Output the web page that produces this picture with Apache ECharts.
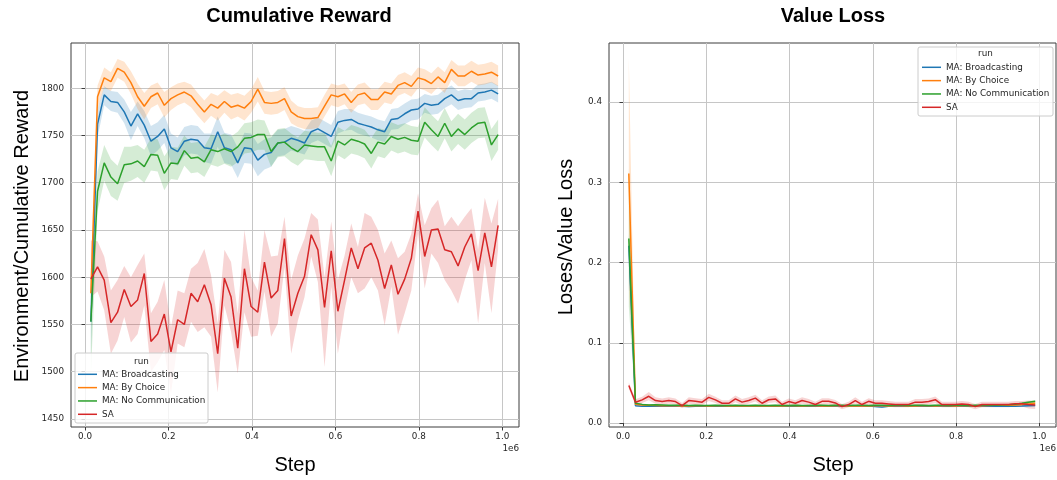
<!DOCTYPE html>
<html><head><meta charset="utf-8">
<script src="https://cdn.jsdelivr.net/npm/echarts@6/dist/echarts.min.js"></script>
<style>html,body{margin:0;padding:0;background:#fff}#c{width:1057px;height:480px}</style>
</head><body><div id="c"></div>
<script>
const steps = [14000, 30000, 46000, 62000, 78000, 94000, 110000, 126000, 142000, 158000,
174000, 190000, 206000, 222000, 238000, 254000, 270000, 286000, 302000, 318000,
334000, 350000, 366000, 382000, 398000, 414000, 430000, 446000, 462000, 478000,
494000, 510000, 526000, 542000, 558000, 574000, 590000, 606000, 622000, 638000,
654000, 670000, 686000, 702000, 718000, 734000, 750000, 766000, 782000, 798000,
814000, 830000, 846000, 862000, 878000, 894000, 910000, 926000, 942000, 958000,
974000, 990000];

const runNames = ['MA: Broadcasting', 'MA: By Choice', 'MA: No Communication', 'SA'];
const runColors = ['#1f77b4', '#ff7f0e', '#2ca02c', '#d62728'];
const xTicks = [0, 200000, 400000, 600000, 800000, 1000000];
const rewardTicks = [1450, 1500, 1550, 1600, 1650, 1700, 1750, 1800];
const lossTicks = [0, 0.1, 0.2, 0.3, 0.4];

// Cumulative reward
const rewardBroadcast = [1553, 1762, 1793, 1786, 1785, 1775, 1760, 1773, 1761, 1744,
1749, 1757, 1737, 1733, 1744, 1746, 1745, 1737, 1736, 1754,
1737, 1735, 1721, 1737, 1736, 1724, 1730, 1732, 1742, 1743,
1747, 1745, 1742, 1754, 1757, 1753, 1749, 1764, 1766, 1767,
1763, 1761, 1759, 1756, 1754, 1767, 1768, 1773, 1777, 1778,
1784, 1782, 1783, 1789, 1793, 1787, 1789, 1789, 1795, 1796,
1798, 1794];
const rewardBroadcastLow = [1515, 1748, 1782, 1776, 1774, 1763, 1745, 1760, 1747, 1728,
1734, 1742, 1722, 1718, 1729, 1731, 1730, 1722, 1720, 1738,
1721, 1719, 1705, 1721, 1720, 1707, 1714, 1717, 1728, 1729,
1734, 1732, 1730, 1742, 1745, 1741, 1737, 1752, 1755, 1756,
1752, 1750, 1748, 1745, 1743, 1756, 1757, 1762, 1766, 1767,
1774, 1772, 1773, 1779, 1783, 1777, 1779, 1780, 1786, 1787,
1789, 1785];
const rewardBroadcastHigh = [1585, 1778, 1802, 1797, 1796, 1788, 1775, 1786, 1776, 1760,
1764, 1772, 1752, 1748, 1759, 1761, 1760, 1752, 1752, 1770,
1753, 1751, 1737, 1753, 1752, 1741, 1746, 1748, 1756, 1757,
1760, 1758, 1755, 1766, 1769, 1765, 1761, 1776, 1778, 1778,
1774, 1772, 1770, 1767, 1765, 1778, 1779, 1784, 1788, 1789,
1794, 1792, 1793, 1799, 1803, 1797, 1799, 1798, 1804, 1805,
1807, 1803];

const rewardChoice = [1583, 1791, 1811, 1807, 1821, 1817, 1806, 1791, 1781, 1791,
1795, 1782, 1789, 1793, 1796, 1792, 1783, 1775, 1783, 1779,
1786, 1780, 1782, 1779, 1786, 1799, 1785, 1784, 1785, 1789,
1775, 1770, 1768, 1768, 1769, 1781, 1793, 1791, 1794, 1785,
1793, 1795, 1788, 1788, 1796, 1794, 1803, 1806, 1802, 1811,
1809, 1805, 1812, 1806, 1820, 1813, 1813, 1818, 1814, 1815,
1817, 1813];
const rewardChoiceLow = [1560, 1778, 1801, 1797, 1811, 1807, 1794, 1778, 1767, 1779,
1783, 1769, 1777, 1782, 1785, 1780, 1771, 1763, 1771, 1766,
1774, 1767, 1770, 1766, 1774, 1786, 1773, 1772, 1773, 1777,
1763, 1759, 1757, 1757, 1758, 1770, 1782, 1780, 1783, 1774,
1782, 1784, 1777, 1777, 1785, 1783, 1792, 1795, 1791, 1800,
1798, 1794, 1801, 1795, 1809, 1802, 1802, 1807, 1803, 1804,
1806, 1802];
const rewardChoiceHigh = [1606, 1803, 1822, 1817, 1831, 1828, 1818, 1805, 1795, 1803,
1806, 1796, 1801, 1805, 1807, 1804, 1795, 1787, 1795, 1792,
1798, 1793, 1795, 1792, 1799, 1812, 1797, 1796, 1797, 1801,
1787, 1781, 1779, 1779, 1780, 1793, 1805, 1803, 1805, 1796,
1804, 1806, 1799, 1799, 1807, 1805, 1814, 1817, 1813, 1822,
1820, 1816, 1823, 1817, 1830, 1824, 1824, 1829, 1825, 1826,
1828, 1824];

const rewardNoComm = [1553, 1691, 1721, 1706, 1699, 1719, 1720, 1723, 1717, 1730,
1729, 1710, 1721, 1720, 1734, 1726, 1727, 1722, 1735, 1733,
1736, 1733, 1738, 1747, 1748, 1751, 1751, 1733, 1742, 1743,
1737, 1733, 1740, 1739, 1738, 1738, 1723, 1744, 1740, 1746,
1744, 1741, 1731, 1743, 1741, 1749, 1746, 1748, 1745, 1744,
1764, 1756, 1749, 1763, 1749, 1757, 1751, 1758, 1763, 1764,
1740, 1751];
const rewardNoCommLow = [1495, 1670, 1702, 1686, 1681, 1700, 1702, 1706, 1700, 1713,
1712, 1692, 1704, 1703, 1718, 1710, 1711, 1706, 1719, 1717,
1720, 1717, 1722, 1731, 1732, 1735, 1735, 1717, 1727, 1728,
1722, 1718, 1725, 1724, 1723, 1723, 1707, 1729, 1725, 1731,
1729, 1726, 1715, 1728, 1726, 1734, 1731, 1733, 1730, 1729,
1748, 1740, 1733, 1747, 1733, 1741, 1735, 1742, 1747, 1748,
1723, 1735];
const rewardNoCommHigh = [1600, 1712, 1740, 1725, 1718, 1738, 1738, 1740, 1735, 1747,
1746, 1728, 1738, 1737, 1750, 1742, 1743, 1738, 1751, 1749,
1752, 1749, 1754, 1763, 1764, 1767, 1766, 1749, 1757, 1758,
1752, 1748, 1755, 1754, 1753, 1753, 1739, 1759, 1755, 1761,
1759, 1756, 1747, 1758, 1756, 1764, 1761, 1763, 1760, 1759,
1780, 1772, 1765, 1779, 1765, 1773, 1767, 1774, 1779, 1780,
1757, 1767];

const rewardSA = [1598, 1611, 1597, 1552, 1563, 1587, 1569, 1576, 1604, 1532,
1540, 1561, 1521, 1555, 1550, 1583, 1574, 1592, 1571, 1519,
1599, 1579, 1525, 1609, 1569, 1563, 1616, 1578, 1586, 1641,
1559, 1583, 1601, 1645, 1629, 1568, 1628, 1564, 1597, 1631,
1609, 1631, 1636, 1618, 1588, 1613, 1582, 1598, 1620, 1670,
1622, 1650, 1651, 1629, 1627, 1612, 1632, 1646, 1607, 1647,
1611, 1655];
const rewardSALow = [1579, 1585, 1565, 1519, 1533, 1558, 1531, 1540, 1570, 1500,
1510, 1523, 1477, 1530, 1526, 1553, 1542, 1547, 1537, 1478,
1570, 1542, 1498, 1563, 1537, 1538, 1585, 1537, 1551, 1611,
1519, 1554, 1579, 1622, 1595, 1505, 1590, 1519, 1565, 1600,
1583, 1588, 1600, 1586, 1549, 1590, 1539, 1562, 1586, 1646,
1588, 1625, 1615, 1597, 1586, 1572, 1597, 1618, 1551, 1615,
1562, 1630];
const rewardSAHigh = [1639, 1638, 1622, 1586, 1597, 1612, 1600, 1613, 1625, 1562,
1574, 1597, 1547, 1586, 1583, 1609, 1615, 1630, 1602, 1551,
1629, 1616, 1562, 1650, 1600, 1586, 1650, 1622, 1623, 1664,
1597, 1623, 1641, 1668, 1661, 1600, 1659, 1597, 1623, 1657,
1632, 1668, 1664, 1650, 1625, 1639, 1620, 1627, 1646, 1689,
1655, 1673, 1682, 1654, 1664, 1654, 1664, 1673, 1629, 1684,
1657, 1683];

// Value loss
const lossBroadcast = [0.221, 0.0215, 0.0210, 0.0210, 0.0210, 0.0208, 0.0208, 0.0210, 0.0208, 0.0206,
0.0208, 0.0210, 0.0210, 0.0208, 0.0210, 0.0208, 0.0210, 0.0210, 0.0208, 0.0210,
0.0210, 0.0212, 0.0210, 0.0208, 0.0210, 0.0212, 0.0210, 0.0210, 0.0210, 0.0210,
0.0212, 0.0210, 0.0210, 0.0214, 0.0210, 0.0210, 0.0212, 0.0205, 0.0198, 0.0210,
0.0210, 0.0212, 0.0210, 0.0210, 0.0212, 0.0210, 0.0210, 0.0212, 0.0210, 0.0210,
0.0208, 0.0210, 0.0210, 0.0212, 0.0210, 0.0210, 0.0212, 0.0210, 0.0210, 0.0212,
0.0215, 0.0218];
const lossBroadcastLow = [0.204, 0.0205, 0.0201, 0.0201, 0.0201, 0.0199, 0.0199, 0.0201, 0.0199, 0.0197,
0.0199, 0.0201, 0.0201, 0.0199, 0.0201, 0.0199, 0.0201, 0.0201, 0.0199, 0.0201,
0.0201, 0.0203, 0.0201, 0.0199, 0.0201, 0.0203, 0.0201, 0.0201, 0.0201, 0.0201,
0.0203, 0.0201, 0.0201, 0.0205, 0.0201, 0.0201, 0.0203, 0.0195, 0.0188, 0.0201,
0.0201, 0.0203, 0.0201, 0.0201, 0.0203, 0.0201, 0.0201, 0.0203, 0.0201, 0.0201,
0.0199, 0.0201, 0.0201, 0.0203, 0.0201, 0.0201, 0.0203, 0.0201, 0.0201, 0.0203,
0.0205, 0.0207];
const lossBroadcastHigh = [0.238, 0.0225, 0.0219, 0.0219, 0.0219, 0.0217, 0.0217, 0.0219, 0.0217, 0.0215,
0.0217, 0.0219, 0.0219, 0.0217, 0.0219, 0.0217, 0.0219, 0.0219, 0.0217, 0.0219,
0.0219, 0.0221, 0.0219, 0.0217, 0.0219, 0.0221, 0.0219, 0.0219, 0.0219, 0.0219,
0.0221, 0.0219, 0.0219, 0.0223, 0.0219, 0.0219, 0.0221, 0.0215, 0.0208, 0.0219,
0.0219, 0.0221, 0.0219, 0.0219, 0.0221, 0.0219, 0.0219, 0.0221, 0.0219, 0.0219,
0.0217, 0.0219, 0.0219, 0.0221, 0.0219, 0.0219, 0.0221, 0.0219, 0.0219, 0.0221,
0.0225, 0.0229];

const lossChoice = [0.311, 0.0235, 0.0225, 0.0220, 0.0218, 0.0215, 0.0215, 0.0215, 0.0213, 0.0213,
0.0215, 0.0215, 0.0213, 0.0215, 0.0215, 0.0213, 0.0213, 0.0213, 0.0215, 0.0213,
0.0213, 0.0215, 0.0213, 0.0213, 0.0215, 0.0215, 0.0213, 0.0215, 0.0215, 0.0213,
0.0213, 0.0215, 0.0215, 0.0213, 0.0215, 0.0213, 0.0213, 0.0215, 0.0215, 0.0213,
0.0215, 0.0215, 0.0213, 0.0213, 0.0215, 0.0215, 0.0213, 0.0215, 0.0215, 0.0213,
0.0215, 0.0215, 0.0213, 0.0215, 0.0217, 0.0220, 0.0222, 0.0222, 0.0225, 0.0230,
0.0238, 0.0245];
const lossChoiceLow = [0.168, 0.0222, 0.0214, 0.0210, 0.0208, 0.0205, 0.0205, 0.0205, 0.0203, 0.0203,
0.0205, 0.0205, 0.0203, 0.0205, 0.0205, 0.0203, 0.0203, 0.0203, 0.0205, 0.0203,
0.0203, 0.0205, 0.0203, 0.0203, 0.0205, 0.0205, 0.0203, 0.0205, 0.0205, 0.0203,
0.0203, 0.0205, 0.0205, 0.0203, 0.0205, 0.0203, 0.0203, 0.0205, 0.0205, 0.0203,
0.0205, 0.0205, 0.0203, 0.0203, 0.0205, 0.0205, 0.0203, 0.0205, 0.0205, 0.0203,
0.0205, 0.0205, 0.0203, 0.0205, 0.0206, 0.0209, 0.0210, 0.0210, 0.0212, 0.0216,
0.0222, 0.0228];
const lossChoiceHigh = [0.455, 0.0249, 0.0236, 0.0230, 0.0228, 0.0225, 0.0225, 0.0225, 0.0223, 0.0223,
0.0225, 0.0225, 0.0223, 0.0225, 0.0225, 0.0223, 0.0223, 0.0223, 0.0225, 0.0223,
0.0223, 0.0225, 0.0223, 0.0223, 0.0225, 0.0225, 0.0223, 0.0225, 0.0225, 0.0223,
0.0223, 0.0225, 0.0225, 0.0223, 0.0225, 0.0223, 0.0223, 0.0225, 0.0225, 0.0223,
0.0225, 0.0225, 0.0223, 0.0223, 0.0225, 0.0225, 0.0223, 0.0225, 0.0225, 0.0223,
0.0225, 0.0225, 0.0223, 0.0225, 0.0228, 0.0231, 0.0234, 0.0234, 0.0238, 0.0244,
0.0254, 0.0262];

const lossNoComm = [0.230, 0.0245, 0.0232, 0.0225, 0.0228, 0.0225, 0.0222, 0.0220, 0.0220, 0.0218,
0.0220, 0.0218, 0.0218, 0.0220, 0.0218, 0.0218, 0.0220, 0.0218, 0.0218, 0.0220,
0.0218, 0.0218, 0.0220, 0.0218, 0.0218, 0.0220, 0.0218, 0.0218, 0.0220, 0.0220,
0.0218, 0.0220, 0.0220, 0.0218, 0.0220, 0.0220, 0.0218, 0.0220, 0.0220, 0.0218,
0.0220, 0.0220, 0.0218, 0.0220, 0.0220, 0.0218, 0.0220, 0.0220, 0.0218, 0.0220,
0.0220, 0.0218, 0.0220, 0.0220, 0.0222, 0.0222, 0.0225, 0.0228, 0.0235, 0.0245,
0.0260, 0.0270];
const lossNoCommLow = [0.145, 0.0233, 0.0222, 0.0215, 0.0218, 0.0215, 0.0212, 0.0210, 0.0210, 0.0208,
0.0210, 0.0208, 0.0208, 0.0210, 0.0208, 0.0208, 0.0210, 0.0208, 0.0208, 0.0210,
0.0208, 0.0208, 0.0210, 0.0208, 0.0208, 0.0210, 0.0208, 0.0208, 0.0210, 0.0210,
0.0208, 0.0210, 0.0210, 0.0208, 0.0210, 0.0210, 0.0208, 0.0210, 0.0210, 0.0208,
0.0210, 0.0210, 0.0208, 0.0210, 0.0210, 0.0208, 0.0210, 0.0210, 0.0208, 0.0210,
0.0210, 0.0208, 0.0210, 0.0210, 0.0212, 0.0212, 0.0214, 0.0217, 0.0223, 0.0232,
0.0246, 0.0255];
const lossNoCommHigh = [0.318, 0.0258, 0.0243, 0.0235, 0.0238, 0.0235, 0.0232, 0.0230, 0.0230, 0.0228,
0.0230, 0.0228, 0.0228, 0.0230, 0.0228, 0.0228, 0.0230, 0.0228, 0.0228, 0.0230,
0.0228, 0.0228, 0.0230, 0.0228, 0.0228, 0.0230, 0.0228, 0.0228, 0.0230, 0.0230,
0.0228, 0.0230, 0.0230, 0.0228, 0.0230, 0.0230, 0.0228, 0.0230, 0.0230, 0.0228,
0.0230, 0.0230, 0.0228, 0.0230, 0.0230, 0.0228, 0.0230, 0.0230, 0.0228, 0.0230,
0.0230, 0.0228, 0.0230, 0.0230, 0.0232, 0.0232, 0.0236, 0.0239, 0.0247, 0.0258,
0.0274, 0.0285];

const lossSA = [0.0467, 0.0258, 0.0288, 0.0333, 0.0280, 0.0267, 0.0280, 0.0267, 0.0217, 0.0280,
0.0270, 0.0260, 0.0320, 0.0288, 0.0246, 0.0246, 0.0300, 0.0260, 0.0280, 0.0310,
0.0246, 0.0290, 0.0300, 0.0230, 0.0267, 0.0246, 0.0280, 0.0260, 0.0230, 0.0270,
0.0270, 0.0250, 0.0204, 0.0230, 0.0280, 0.0230, 0.0270, 0.0246, 0.0246, 0.0238,
0.0230, 0.0230, 0.0230, 0.0260, 0.0260, 0.0267, 0.0290, 0.0230, 0.0230, 0.0230,
0.0238, 0.0230, 0.0204, 0.0230, 0.0230, 0.0230, 0.0230, 0.0230, 0.0240, 0.0240,
0.0230, 0.0225];
const lossSALow = [0.0430, 0.0222, 0.0250, 0.0285, 0.0240, 0.0230, 0.0240, 0.0230, 0.0185, 0.0240,
0.0232, 0.0222, 0.0275, 0.0248, 0.0210, 0.0210, 0.0258, 0.0222, 0.0240, 0.0268,
0.0210, 0.0250, 0.0258, 0.0195, 0.0230, 0.0210, 0.0240, 0.0222, 0.0195, 0.0232,
0.0232, 0.0212, 0.0172, 0.0195, 0.0240, 0.0195, 0.0232, 0.0210, 0.0210, 0.0202,
0.0195, 0.0195, 0.0195, 0.0222, 0.0222, 0.0230, 0.0250, 0.0195, 0.0195, 0.0195,
0.0202, 0.0195, 0.0172, 0.0195, 0.0195, 0.0195, 0.0195, 0.0195, 0.0205, 0.0205,
0.0180, 0.0175];
const lossSAHigh = [0.0505, 0.0295, 0.0326, 0.0385, 0.0320, 0.0305, 0.0320, 0.0305, 0.0250, 0.0320,
0.0308, 0.0298, 0.0365, 0.0328, 0.0282, 0.0282, 0.0342, 0.0298, 0.0320, 0.0352,
0.0282, 0.0330, 0.0342, 0.0265, 0.0305, 0.0282, 0.0320, 0.0298, 0.0265, 0.0308,
0.0308, 0.0288, 0.0236, 0.0265, 0.0320, 0.0265, 0.0308, 0.0282, 0.0282, 0.0274,
0.0265, 0.0265, 0.0265, 0.0298, 0.0298, 0.0305, 0.0330, 0.0265, 0.0265, 0.0265,
0.0274, 0.0265, 0.0236, 0.0265, 0.0265, 0.0265, 0.0265, 0.0265, 0.0275, 0.0275,
0.0280, 0.0275];

const rewardRuns = [
  [rewardBroadcast, rewardBroadcastLow, rewardBroadcastHigh],
  [rewardChoice, rewardChoiceLow, rewardChoiceHigh],
  [rewardNoComm, rewardNoCommLow, rewardNoCommHigh],
  [rewardSA, rewardSALow, rewardSAHigh]
];
const lossRuns = [
  [lossBroadcast, lossBroadcastLow, lossBroadcastHigh],
  [lossChoice, lossChoiceLow, lossChoiceHigh],
  [lossNoComm, lossNoCommLow, lossNoCommHigh],
  [lossSA, lossSALow, lossSAHigh]
];

function pairs(ys) { return steps.map((x, i) => [x, ys[i]]); }

const TICK_FONT = 'DejaVu Sans';
const INK = '#262626';
const FRAME = '#3c3c3c';
const GRIDC = '#c6c6c6';
const SMALL = 8.8;

function bandSeries(g, lo, hi, color) {
  return {
    type: 'custom', xAxisIndex: g, yAxisIndex: g, silent: true, z: 1,
    data: steps.map((x, i) => [x, lo[i], hi[i]]),
    encode: { x: 0, y: [1, 2] },
    renderItem: function (params, api) {
      if (params.dataIndex !== 0) return null;
      const pts = [];
      for (let i = 0; i < steps.length; i++) pts.push(api.coord([steps[i], hi[i]]));
      for (let i = steps.length - 1; i >= 0; i--) pts.push(api.coord([steps[i], lo[i]]));
      const cs = params.coordSys;
      return {
        type: 'polygon',
        shape: { points: pts },
        style: { fill: color, opacity: 0.2 },
        clipPath: { type: 'rect', shape: { x: cs.x, y: cs.y, width: cs.width, height: cs.height } }
      };
    }
  };
}

const series = [];
[rewardRuns, lossRuns].forEach((runs, g) => {
  runs.forEach((r, k) => series.push(bandSeries(g, r[1], r[2], runColors[k])));
  runs.forEach((r, k) => {
    series.push({
      type: 'line', name: runNames[k], xAxisIndex: g, yAxisIndex: g,
      data: pairs(r[0]), symbol: 'none', showSymbol: false, z: 3,
      lineStyle: { color: runColors[k], width: 1.5 },
      itemStyle: { color: runColors[k] }, emphasis: { disabled: true }
    });
  });
});

function xAxisFor(g) {
  return {
    gridIndex: g, type: 'value', min: -33600, max: 1040000,
    minInterval: 200000, maxInterval: 200000,
    axisLine: { show: false },
    axisTick: { show: true, length: 3.5, customValues: xTicks, lineStyle: { color: FRAME, width: 1 } },
    axisLabel: { customValues: xTicks, formatter: v => (v / 1e6).toFixed(1),
      fontFamily: TICK_FONT, fontSize: SMALL, color: INK, margin: 5 },
    splitLine: { show: true, lineStyle: { color: GRIDC, width: 1 } }
  };
}

const option = {
  animation: false,
  backgroundColor: '#ffffff',
  grid: [
    { left: 71, top: 43, width: 448, height: 384, show: true, borderColor: FRAME, borderWidth: 1, backgroundColor: 'transparent' },
    { left: 609, top: 43, width: 447, height: 384, show: true, borderColor: FRAME, borderWidth: 1, backgroundColor: 'transparent' }
  ],
  xAxis: [xAxisFor(0), xAxisFor(1)],
  yAxis: [
    { gridIndex: 0, type: 'value', min: 1441.5, max: 1847.9, minInterval: 50, maxInterval: 50,
      axisLine: { show: false },
      axisTick: { show: true, length: 3.5, customValues: rewardTicks, lineStyle: { color: FRAME, width: 1 } },
      axisLabel: { customValues: rewardTicks, formatter: v => String(v), fontFamily: TICK_FONT, fontSize: SMALL, color: INK, margin: 7 },
      splitLine: { show: true, lineStyle: { color: GRIDC, width: 1 } } },
    { gridIndex: 1, type: 'value', min: -0.005, max: 0.4738, minInterval: 0.1, maxInterval: 0.1,
      axisLine: { show: false },
      axisTick: { show: true, length: 3.5, customValues: lossTicks, lineStyle: { color: FRAME, width: 1 } },
      axisLabel: { customValues: lossTicks, formatter: v => v.toFixed(1), fontFamily: TICK_FONT, fontSize: SMALL, color: INK, margin: 7 },
      splitLine: { show: true, lineStyle: { color: GRIDC, width: 1 } } }
  ],
  legend: [
    { data: runNames, left: 78, top: 368.3, orient: 'vertical', icon: 'rect', itemWidth: 19, itemHeight: 1.5,
      itemGap: 1.33, padding: 0, selectedMode: false, z: 20,
      textStyle: { fontFamily: TICK_FONT, fontSize: SMALL, color: INK, lineHeight: 12 } },
    { data: runNames, left: 922, top: 61.3, orient: 'vertical', icon: 'rect', itemWidth: 19, itemHeight: 1.5,
      itemGap: 1.33, padding: 0, selectedMode: false, z: 20,
      textStyle: { fontFamily: TICK_FONT, fontSize: SMALL, color: INK, lineHeight: 12 } }
  ],
  graphic: [
    { type: 'rect', z: 15, shape: { x: 75, y: 353, width: 133, height: 70, r: 2 },
      style: { fill: 'rgba(255,255,255,0.8)', stroke: '#cccccc', lineWidth: 1 } },
    { type: 'text', z: 20, x: 141.5, y: 361.5,
      style: { text: 'run', fontFamily: TICK_FONT, fontSize: SMALL, fill: INK, align: 'center', verticalAlign: 'middle' } },
    { type: 'rect', z: 15, shape: { x: 918, y: 47, width: 135, height: 69, r: 2 },
      style: { fill: 'rgba(255,255,255,0.8)', stroke: '#cccccc', lineWidth: 1 } },
    { type: 'text', z: 20, x: 985.5, y: 54,
      style: { text: 'run', fontFamily: TICK_FONT, fontSize: SMALL, fill: INK, align: 'center', verticalAlign: 'middle' } },
    { type: 'text', z: 20, x: 299, y: 16,
      style: { text: 'Cumulative Reward', fontFamily: 'Liberation Sans', fontWeight: 'bold', fontSize: 20, fill: '#000', align: 'center', verticalAlign: 'middle' } },
    { type: 'text', z: 20, x: 833, y: 16,
      style: { text: 'Value Loss', fontFamily: 'Liberation Sans', fontWeight: 'bold', fontSize: 20, fill: '#000', align: 'center', verticalAlign: 'middle' } },
    { type: 'text', z: 20, x: 295, y: 465,
      style: { text: 'Step', fontFamily: 'Liberation Sans', fontSize: 20, fill: '#000', align: 'center', verticalAlign: 'middle' } },
    { type: 'text', z: 20, x: 833, y: 465,
      style: { text: 'Step', fontFamily: 'Liberation Sans', fontSize: 20, fill: '#000', align: 'center', verticalAlign: 'middle' } },
    { type: 'text', z: 20, x: 22, y: 236, rotation: Math.PI / 2,
      style: { text: 'Environment/Cumulative Reward', fontFamily: 'Liberation Sans', fontSize: 20, fill: '#000', align: 'center', verticalAlign: 'middle' } },
    { type: 'text', z: 20, x: 566, y: 237, rotation: Math.PI / 2,
      style: { text: 'Loses/Value Loss', fontFamily: 'Liberation Sans', fontSize: 20, fill: '#000', align: 'center', verticalAlign: 'middle' } },
    { type: 'text', z: 20, x: 519, y: 449,
      style: { text: '1e6', fontFamily: TICK_FONT, fontSize: SMALL, fill: INK, align: 'right', verticalAlign: 'middle' } },
    { type: 'text', z: 20, x: 1056, y: 449,
      style: { text: '1e6', fontFamily: TICK_FONT, fontSize: SMALL, fill: INK, align: 'right', verticalAlign: 'middle' } }
  ],
  series: series
};

const chart = echarts.init(document.getElementById('c'), null, { renderer: 'canvas' });
chart.setOption(option);
</script>
</body></html>
